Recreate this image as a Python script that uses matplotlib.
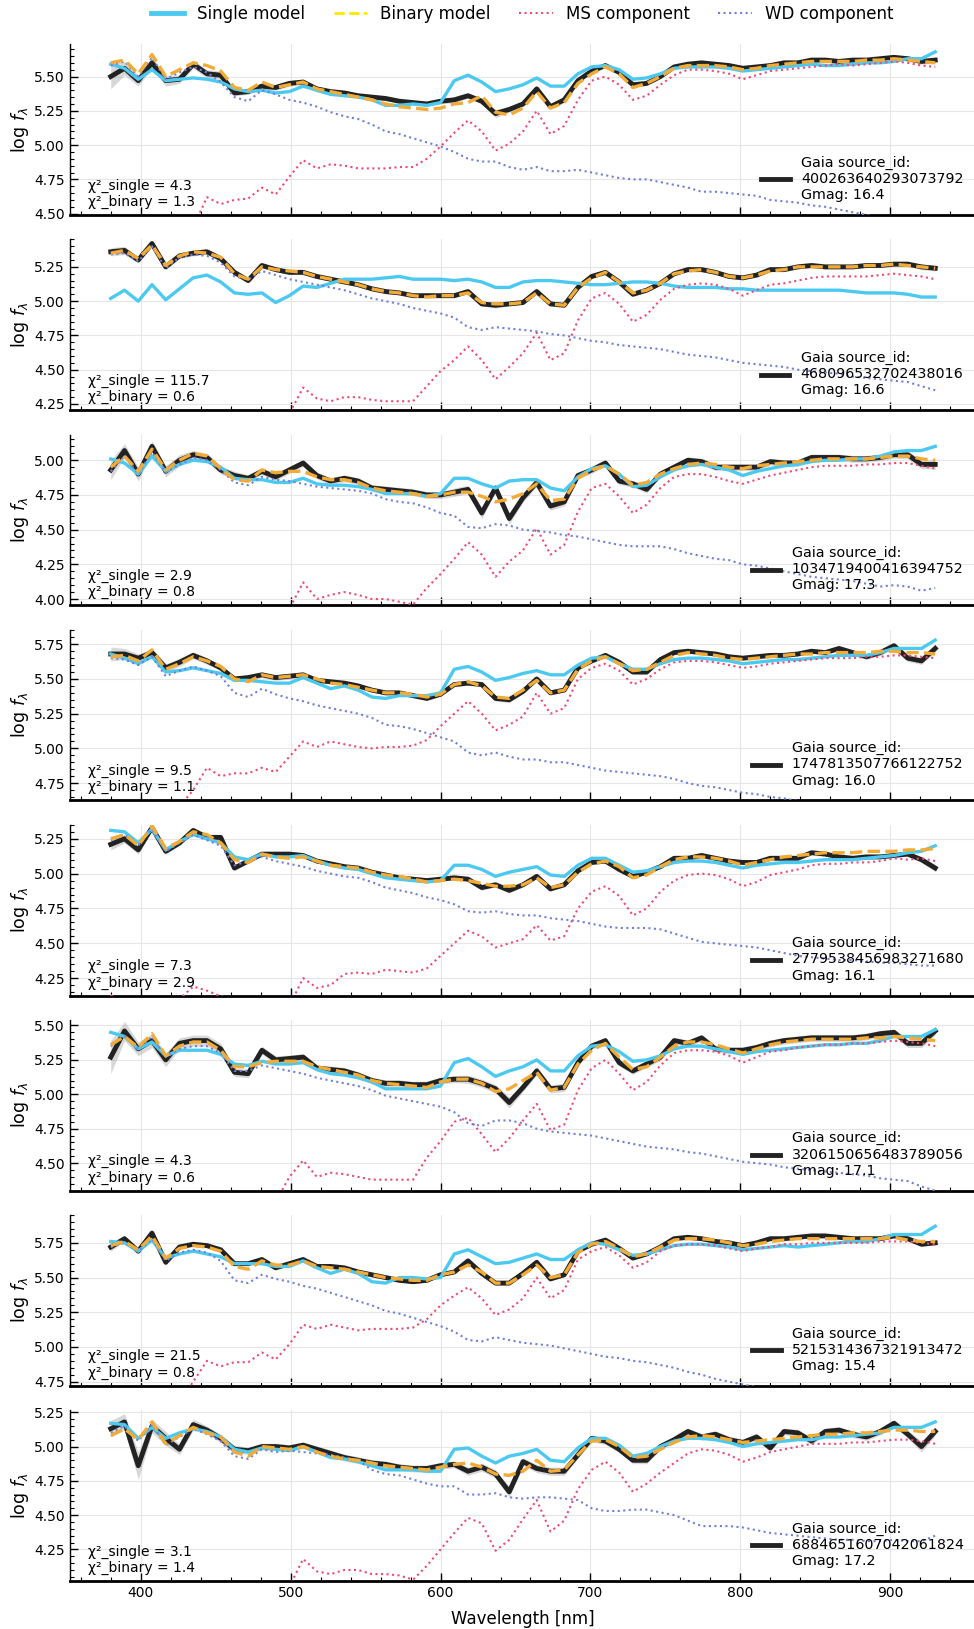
import matplotlib
matplotlib.use("Agg")
import matplotlib.pyplot as plt
import numpy as np
from matplotlib.lines import Line2D
from matplotlib.ticker import MultipleLocator, FormatStrFormatter

# XP sampling grid (nm)
wavelength = np.linspace(380, 930, 61)

source_ids = ["400263640293073792", "468096532702438016", "1034719400416394752",
              "1747813507766122752", "2779538456983271680", "3206150656483789056",
              "5215314367321913472", "6884651607042061824"]
gmags = [16.4, 16.6, 17.3, 16.0, 16.1, 17.1, 15.4, 17.2]
chi2_single = [4.3, 115.7, 2.9, 9.5, 7.3, 4.3, 21.5, 3.1]
chi2_binary = [1.3, 0.6, 0.8, 1.1, 2.9, 0.6, 0.8, 1.4]
ylims = [(4.49, 5.735), (4.205, 5.45), (3.955, 5.185), (4.625, 5.855),
         (4.125, 5.35), (4.30, 5.54), (4.72, 5.95), (4.02, 5.265)]

# ---- 400263640293073792
obs1 = [5.50, 5.56, 5.47, 5.60, 5.47, 5.48, 5.59, 5.52, 5.51, 5.38,
        5.39, 5.43, 5.42, 5.45, 5.46, 5.41, 5.39, 5.38, 5.36, 5.35,
        5.34, 5.32, 5.31, 5.30, 5.32, 5.33, 5.36, 5.32, 5.23, 5.26,
        5.30, 5.41, 5.28, 5.33, 5.47, 5.54, 5.58, 5.53, 5.44, 5.45,
        5.50, 5.57, 5.59, 5.60, 5.59, 5.58, 5.56, 5.57, 5.58, 5.60,
        5.60, 5.62, 5.62, 5.61, 5.62, 5.62, 5.63, 5.64, 5.63, 5.61,
        5.62]
err1 = [0.09, 0.05, 0.04, 0.04, 0.04, 0.03, 0.03, 0.03, 0.03, 0.02,
        0.02, 0.02, 0.02, 0.02, 0.02, 0.02, 0.02, 0.02, 0.015, 0.015,
        0.015, 0.015, 0.015, 0.015, 0.02, 0.02, 0.02, 0.02, 0.03, 0.02,
        0.02, 0.02, 0.02, 0.02, 0.02, 0.015, 0.015, 0.015, 0.015, 0.015,
        0.015, 0.015, 0.015, 0.015, 0.015, 0.015, 0.015, 0.015, 0.015, 0.015,
        0.015, 0.015, 0.015, 0.015, 0.015, 0.015, 0.015, 0.015, 0.02, 0.02,
        0.02]
bin1 = [5.60, 5.62, 5.52, 5.66, 5.50, 5.55, 5.60, 5.58, 5.54, 5.42,
        5.40, 5.46, 5.42, 5.44, 5.46, 5.41, 5.39, 5.37, 5.35, 5.33,
        5.30, 5.28, 5.27, 5.26, 5.27, 5.30, 5.31, 5.36, 5.24, 5.22,
        5.27, 5.39, 5.27, 5.31, 5.45, 5.52, 5.57, 5.52, 5.42, 5.45,
        5.50, 5.56, 5.58, 5.58, 5.58, 5.57, 5.55, 5.56, 5.58, 5.59,
        5.60, 5.61, 5.61, 5.61, 5.61, 5.62, 5.62, 5.63, 5.62, 5.61,
        5.60]
single1 = [5.59, 5.56, 5.48, 5.55, 5.47, 5.48, 5.49, 5.48, 5.46, 5.41,
           5.39, 5.40, 5.38, 5.39, 5.43, 5.40, 5.37, 5.36, 5.35, 5.33,
           5.29, 5.29, 5.30, 5.29, 5.31, 5.47, 5.51, 5.46, 5.39, 5.41,
           5.44, 5.49, 5.43, 5.43, 5.52, 5.57, 5.58, 5.55, 5.48, 5.49,
           5.52, 5.56, 5.57, 5.57, 5.57, 5.56, 5.54, 5.55, 5.56, 5.57,
           5.58, 5.59, 5.58, 5.58, 5.59, 5.60, 5.60, 5.61, 5.63, 5.63,
           5.68]
ms1 = [4.30, 4.40, 4.35, 4.45, 4.38, 4.42, 4.40, 4.62, 4.57, 4.60,
       4.61, 4.69, 4.64, 4.77, 4.89, 4.83, 4.86, 4.85, 4.83, 4.83,
       4.83, 4.84, 4.84, 4.90, 4.99, 5.09, 5.18, 5.10, 4.96, 5.01,
       5.10, 5.25, 5.08, 5.14, 5.33, 5.47, 5.50, 5.44, 5.33, 5.36,
       5.44, 5.51, 5.55, 5.55, 5.54, 5.52, 5.48, 5.51, 5.54, 5.55,
       5.56, 5.57, 5.58, 5.59, 5.58, 5.59, 5.60, 5.61, 5.60, 5.58,
       5.57]
wd1 = [5.58, 5.61, 5.50, 5.64, 5.48, 5.53, 5.57, 5.53, 5.46, 5.35,
       5.32, 5.40, 5.37, 5.33, 5.31, 5.28, 5.24, 5.21, 5.19, 5.15,
       5.10, 5.08, 5.05, 5.02, 4.99, 4.95, 4.90, 4.88, 4.88, 4.84,
       4.82, 4.84, 4.81, 4.81, 4.82, 4.80, 4.78, 4.76, 4.75, 4.75,
       4.73, 4.71, 4.69, 4.66, 4.66, 4.65, 4.64, 4.63, 4.60, 4.59,
       4.58, 4.56, 4.55, 4.53, 4.51, 4.49, 4.47, 4.45, 4.43, 4.42,
       4.40]

# ---- 468096532702438016
obs2 = [5.36, 5.37, 5.30, 5.42, 5.25, 5.33, 5.35, 5.36, 5.31, 5.21,
        5.15, 5.26, 5.23, 5.21, 5.21, 5.18, 5.16, 5.14, 5.12, 5.09,
        5.07, 5.06, 5.04, 5.04, 5.04, 5.04, 5.07, 4.98, 4.97, 4.98,
        4.99, 5.07, 4.98, 4.97, 5.10, 5.18, 5.21, 5.14, 5.05, 5.08,
        5.13, 5.20, 5.23, 5.23, 5.21, 5.18, 5.17, 5.19, 5.23, 5.23,
        5.25, 5.26, 5.25, 5.25, 5.25, 5.26, 5.26, 5.27, 5.27, 5.25,
        5.24]
err2 = [0.03, 0.03, 0.02, 0.02, 0.02, 0.02, 0.02, 0.02, 0.02, 0.02,
        0.015, 0.015, 0.015, 0.015, 0.015, 0.015, 0.015, 0.015, 0.015, 0.015,
        0.015, 0.015, 0.015, 0.015, 0.015, 0.015, 0.015, 0.015, 0.02, 0.015,
        0.015, 0.015, 0.015, 0.015, 0.015, 0.015, 0.015, 0.015, 0.015, 0.015,
        0.015, 0.015, 0.015, 0.015, 0.015, 0.015, 0.015, 0.015, 0.015, 0.015,
        0.015, 0.015, 0.015, 0.015, 0.015, 0.015, 0.015, 0.015, 0.015, 0.02,
        0.02]
bin2 = [5.35, 5.37, 5.31, 5.41, 5.26, 5.33, 5.36, 5.35, 5.32, 5.20,
        5.16, 5.25, 5.23, 5.22, 5.21, 5.18, 5.16, 5.14, 5.12, 5.09,
        5.07, 5.06, 5.04, 5.03, 5.04, 5.04, 5.06, 4.99, 4.98, 4.98,
        4.99, 5.06, 4.98, 4.97, 5.10, 5.17, 5.21, 5.14, 5.06, 5.08,
        5.13, 5.20, 5.22, 5.23, 5.21, 5.18, 5.17, 5.19, 5.22, 5.23,
        5.25, 5.25, 5.25, 5.25, 5.25, 5.26, 5.26, 5.27, 5.26, 5.25,
        5.24]
single2 = [5.02, 5.08, 5.00, 5.12, 5.01, 5.09, 5.17, 5.19, 5.14, 5.06,
           5.05, 5.06, 4.99, 5.04, 5.11, 5.10, 5.13, 5.16, 5.16, 5.16,
           5.17, 5.18, 5.16, 5.16, 5.16, 5.15, 5.16, 5.14, 5.10, 5.10,
           5.14, 5.15, 5.15, 5.14, 5.13, 5.12, 5.12, 5.13, 5.14, 5.14,
           5.13, 5.11, 5.10, 5.10, 5.10, 5.09, 5.09, 5.08, 5.08, 5.08,
           5.08, 5.08, 5.08, 5.08, 5.07, 5.06, 5.06, 5.06, 5.05, 5.03,
           5.03]
ms2 = [3.90, 3.95, 3.92, 4.00, 3.95, 4.00, 4.02, 4.05, 4.05, 4.08,
       4.10, 4.12, 4.12, 4.18, 4.37, 4.29, 4.27, 4.30, 4.30, 4.28,
       4.27, 4.27, 4.27, 4.38, 4.49, 4.57, 4.67, 4.57, 4.43, 4.52,
       4.62, 4.77, 4.57, 4.62, 4.86, 5.02, 5.06, 4.98, 4.85, 4.90,
       5.01, 5.09, 5.12, 5.13, 5.12, 5.09, 5.04, 5.08, 5.12, 5.13,
       5.15, 5.17, 5.18, 5.18, 5.18, 5.18, 5.19, 5.20, 5.19, 5.18,
       5.16]
wd2 = [5.34, 5.35, 5.29, 5.40, 5.24, 5.32, 5.34, 5.33, 5.28, 5.18,
       5.16, 5.22, 5.19, 5.16, 5.14, 5.12, 5.10, 5.08, 5.05, 5.02,
       5.00, 4.98, 4.95, 4.93, 4.91, 4.88, 4.81, 4.79, 4.81, 4.80,
       4.79, 4.78, 4.76, 4.75, 4.73, 4.71, 4.70, 4.68, 4.67, 4.66,
       4.65, 4.63, 4.61, 4.60, 4.59, 4.57, 4.55, 4.54, 4.53, 4.52,
       4.50, 4.49, 4.48, 4.47, 4.45, 4.44, 4.43, 4.42, 4.41, 4.38,
       4.35]

# ---- 1034719400416394752
obs3 = [4.93, 5.07, 4.90, 5.10, 4.92, 5.00, 5.04, 5.02, 4.93, 4.89,
        4.87, 4.92, 4.88, 4.93, 4.98, 4.89, 4.85, 4.87, 4.85, 4.80,
        4.79, 4.78, 4.77, 4.75, 4.75, 4.77, 4.79, 4.62, 4.80, 4.58,
        4.73, 4.84, 4.67, 4.70, 4.89, 4.93, 4.98, 4.85, 4.83, 4.79,
        4.90, 4.95, 5.00, 4.99, 4.95, 4.95, 4.95, 4.95, 4.99, 4.98,
        4.98, 5.02, 5.02, 5.02, 5.01, 5.01, 5.02, 5.04, 5.04, 4.97,
        4.97]
err3 = [0.07, 0.05, 0.05, 0.04, 0.04, 0.04, 0.03, 0.03, 0.03, 0.03,
        0.025, 0.025, 0.025, 0.025, 0.025, 0.025, 0.025, 0.025, 0.025, 0.025,
        0.025, 0.025, 0.025, 0.025, 0.025, 0.03, 0.03, 0.04, 0.03, 0.04,
        0.03, 0.03, 0.03, 0.03, 0.025, 0.025, 0.025, 0.025, 0.025, 0.025,
        0.025, 0.025, 0.025, 0.025, 0.025, 0.025, 0.025, 0.025, 0.025, 0.025,
        0.025, 0.025, 0.025, 0.025, 0.025, 0.025, 0.025, 0.025, 0.03, 0.03,
        0.035]
bin3 = [4.95, 5.03, 4.92, 5.08, 4.93, 5.00, 5.05, 5.03, 4.94, 4.86,
        4.85, 4.93, 4.91, 4.92, 4.92, 4.88, 4.86, 4.86, 4.84, 4.80,
        4.78, 4.77, 4.76, 4.74, 4.75, 4.77, 4.77, 4.74, 4.70, 4.72,
        4.76, 4.83, 4.71, 4.72, 4.87, 4.93, 4.96, 4.90, 4.82, 4.84,
        4.90, 4.94, 4.97, 4.98, 4.97, 4.95, 4.94, 4.96, 4.97, 4.98,
        4.99, 5.00, 5.01, 5.01, 5.01, 5.01, 5.02, 5.03, 5.03, 5.01,
        5.00]
single3 = [5.01, 4.98, 4.90, 5.03, 4.92, 4.97, 5.00, 4.99, 4.95, 4.87,
           4.86, 4.86, 4.84, 4.84, 4.87, 4.83, 4.82, 4.82, 4.81, 4.79,
           4.76, 4.76, 4.76, 4.74, 4.76, 4.87, 4.87, 4.83, 4.80, 4.85,
           4.86, 4.86, 4.80, 4.78, 4.88, 4.94, 4.96, 4.90, 4.81, 4.82,
           4.88, 4.93, 4.96, 4.97, 4.95, 4.93, 4.89, 4.92, 4.94, 4.96,
           4.97, 4.99, 5.00, 5.00, 5.01, 5.01, 5.03, 5.06, 5.07, 5.07,
           5.10]
ms3 = [3.70, 3.75, 3.72, 3.80, 3.75, 3.78, 3.82, 3.82, 3.80, 3.82,
       3.85, 3.88, 3.88, 3.93, 4.12, 4.00, 4.03, 4.05, 4.03, 4.00,
       4.00, 3.98, 3.96, 4.08, 4.18, 4.29, 4.41, 4.32, 4.16, 4.27,
       4.35, 4.51, 4.32, 4.39, 4.63, 4.80, 4.83, 4.74, 4.62, 4.68,
       4.80, 4.88, 4.90, 4.90, 4.88, 4.85, 4.83, 4.86, 4.89, 4.91,
       4.93, 4.95, 4.96, 4.96, 4.96, 4.97, 4.97, 4.98, 4.98, 4.96,
       4.94]
wd3 = [4.92, 5.03, 4.90, 5.06, 4.91, 4.97, 5.02, 5.00, 4.93, 4.84,
       4.82, 4.88, 4.86, 4.85, 4.83, 4.81, 4.80, 4.79, 4.78, 4.76,
       4.72, 4.70, 4.69, 4.66, 4.62, 4.60, 4.52, 4.51, 4.54, 4.53,
       4.50, 4.49, 4.48, 4.46, 4.45, 4.43, 4.41, 4.39, 4.38, 4.38,
       4.38, 4.36, 4.33, 4.31, 4.29, 4.28, 4.25, 4.24, 4.22, 4.20,
       4.18, 4.16, 4.15, 4.14, 4.13, 4.11, 4.09, 4.10, 4.09, 4.06,
       4.08]

# ---- 1747813507766122752
obs4 = [5.68, 5.68, 5.65, 5.69, 5.58, 5.62, 5.67, 5.63, 5.58, 5.50,
        5.51, 5.53, 5.51, 5.52, 5.53, 5.49, 5.48, 5.47, 5.45, 5.42,
        5.40, 5.40, 5.38, 5.36, 5.39, 5.46, 5.47, 5.46, 5.36, 5.35,
        5.41, 5.50, 5.40, 5.42, 5.58, 5.63, 5.67, 5.62, 5.55, 5.55,
        5.64, 5.69, 5.70, 5.69, 5.68, 5.66, 5.65, 5.66, 5.67, 5.67,
        5.68, 5.70, 5.69, 5.72, 5.69, 5.66, 5.69, 5.74, 5.65, 5.63,
        5.72]
err4 = [0.05, 0.04, 0.03, 0.03, 0.03, 0.03, 0.025, 0.025, 0.02, 0.02,
        0.02, 0.02, 0.02, 0.02, 0.015, 0.015, 0.015, 0.015, 0.015, 0.015,
        0.015, 0.015, 0.015, 0.015, 0.015, 0.015, 0.015, 0.015, 0.02, 0.02,
        0.015, 0.015, 0.015, 0.015, 0.015, 0.015, 0.015, 0.015, 0.015, 0.015,
        0.015, 0.015, 0.015, 0.015, 0.015, 0.015, 0.015, 0.015, 0.015, 0.015,
        0.015, 0.015, 0.015, 0.015, 0.02, 0.02, 0.02, 0.02, 0.025, 0.025,
        0.025]
bin4 = [5.66, 5.67, 5.63, 5.71, 5.57, 5.61, 5.66, 5.63, 5.59, 5.50,
        5.48, 5.53, 5.51, 5.52, 5.53, 5.50, 5.47, 5.46, 5.44, 5.42,
        5.40, 5.40, 5.39, 5.37, 5.39, 5.46, 5.48, 5.45, 5.37, 5.36,
        5.42, 5.49, 5.40, 5.42, 5.57, 5.63, 5.66, 5.61, 5.56, 5.57,
        5.62, 5.67, 5.69, 5.68, 5.67, 5.65, 5.64, 5.65, 5.66, 5.67,
        5.68, 5.68, 5.69, 5.69, 5.69, 5.69, 5.70, 5.70, 5.69, 5.69,
        5.68]
single4 = [5.68, 5.65, 5.61, 5.66, 5.55, 5.56, 5.58, 5.56, 5.54, 5.49,
           5.49, 5.48, 5.47, 5.47, 5.51, 5.47, 5.43, 5.45, 5.42, 5.37,
           5.36, 5.38, 5.38, 5.38, 5.40, 5.57, 5.59, 5.55, 5.49, 5.51,
           5.54, 5.56, 5.53, 5.53, 5.60, 5.65, 5.66, 5.61, 5.57, 5.57,
           5.61, 5.64, 5.65, 5.65, 5.64, 5.63, 5.61, 5.62, 5.63, 5.64,
           5.64, 5.65, 5.66, 5.67, 5.67, 5.67, 5.69, 5.72, 5.72, 5.72,
           5.78]
ms4 = [4.35, 4.40, 4.42, 4.48, 4.50, 4.58, 4.70, 4.86, 4.80, 4.82,
       4.82, 4.86, 4.83, 4.94, 5.05, 5.01, 5.05, 5.03, 5.01, 5.00,
       5.01, 5.01, 5.02, 5.06, 5.16, 5.25, 5.34, 5.25, 5.13, 5.17,
       5.23, 5.40, 5.25, 5.29, 5.50, 5.58, 5.61, 5.56, 5.46, 5.50,
       5.57, 5.62, 5.63, 5.63, 5.62, 5.60, 5.58, 5.59, 5.61, 5.62,
       5.63, 5.64, 5.65, 5.65, 5.65, 5.66, 5.66, 5.67, 5.67, 5.66,
       5.65]
wd4 = [5.65, 5.64, 5.60, 5.66, 5.52, 5.56, 5.59, 5.56, 5.52, 5.40,
       5.37, 5.43, 5.39, 5.36, 5.34, 5.31, 5.29, 5.27, 5.25, 5.22,
       5.17, 5.16, 5.14, 5.11, 5.08, 5.05, 4.97, 4.95, 4.97, 4.94,
       4.92, 4.92, 4.90, 4.90, 4.88, 4.86, 4.84, 4.83, 4.82, 4.81,
       4.80, 4.78, 4.75, 4.73, 4.72, 4.70, 4.68, 4.67, 4.65, 4.64,
       4.62, 4.61, 4.60, 4.58, 4.56, 4.55, 4.53, 4.52, 4.50, 4.49,
       4.47]

# ---- 2779538456983271680
obs5 = [5.21, 5.25, 5.17, 5.33, 5.16, 5.22, 5.31, 5.26, 5.26, 5.04,
        5.09, 5.14, 5.14, 5.14, 5.13, 5.09, 5.07, 5.05, 5.04, 5.01,
        4.99, 4.97, 4.96, 4.95, 4.96, 4.97, 4.96, 4.90, 4.92, 4.88,
        4.92, 4.98, 4.89, 4.92, 5.02, 5.08, 5.09, 5.03, 4.98, 5.01,
        5.05, 5.11, 5.11, 5.13, 5.11, 5.09, 5.08, 5.08, 5.11, 5.11,
        5.11, 5.15, 5.14, 5.12, 5.11, 5.12, 5.12, 5.13, 5.14, 5.10,
        5.04]
err5 = [0.04, 0.03, 0.03, 0.02, 0.02, 0.02, 0.02, 0.02, 0.02, 0.02,
        0.015, 0.015, 0.015, 0.015, 0.015, 0.015, 0.015, 0.015, 0.015, 0.015,
        0.015, 0.015, 0.015, 0.015, 0.015, 0.015, 0.015, 0.02, 0.015, 0.02,
        0.015, 0.015, 0.015, 0.015, 0.015, 0.015, 0.015, 0.015, 0.015, 0.015,
        0.015, 0.015, 0.015, 0.015, 0.015, 0.015, 0.015, 0.015, 0.015, 0.015,
        0.015, 0.015, 0.015, 0.015, 0.015, 0.015, 0.015, 0.015, 0.015, 0.02,
        0.025]
bin5 = [5.25, 5.28, 5.20, 5.34, 5.18, 5.23, 5.30, 5.28, 5.22, 5.10,
        5.08, 5.14, 5.12, 5.11, 5.12, 5.09, 5.06, 5.05, 5.04, 5.01,
        4.99, 4.98, 4.96, 4.94, 4.95, 4.96, 4.95, 4.93, 4.91, 4.91,
        4.92, 4.97, 4.90, 4.92, 5.01, 5.07, 5.09, 5.05, 4.97, 4.99,
        5.05, 5.10, 5.12, 5.12, 5.11, 5.09, 5.06, 5.08, 5.10, 5.12,
        5.13, 5.14, 5.15, 5.15, 5.15, 5.16, 5.16, 5.16, 5.17, 5.17,
        5.18]
single5 = [5.31, 5.30, 5.22, 5.32, 5.17, 5.23, 5.28, 5.25, 5.22, 5.12,
           5.10, 5.14, 5.12, 5.12, 5.13, 5.09, 5.06, 5.04, 5.03, 5.00,
           4.97, 4.96, 4.95, 4.94, 4.95, 5.06, 5.06, 5.03, 4.98, 5.01,
           5.03, 5.05, 4.99, 4.98, 5.06, 5.11, 5.11, 5.06, 5.01, 5.02,
           5.05, 5.08, 5.09, 5.09, 5.08, 5.06, 5.04, 5.06, 5.07, 5.08,
           5.08, 5.09, 5.10, 5.10, 5.10, 5.11, 5.12, 5.13, 5.15, 5.16,
           5.20]
ms5 = [4.13, 4.05, 4.06, 4.00, 4.05, 4.10, 4.19, 4.16, 4.12, 4.10,
       4.02, 3.98, 3.95, 4.05, 4.25, 4.18, 4.20, 4.28, 4.29, 4.28,
       4.31, 4.30, 4.29, 4.32, 4.41, 4.50, 4.59, 4.55, 4.47, 4.50,
       4.53, 4.63, 4.52, 4.55, 4.75, 4.87, 4.91, 4.84, 4.70, 4.75,
       4.87, 4.95, 4.99, 5.00, 4.99, 4.96, 4.91, 4.94, 4.99, 5.01,
       5.03, 5.06, 5.07, 5.07, 5.08, 5.08, 5.09, 5.11, 5.10, 5.11,
       5.09]
wd5 = [5.24, 5.28, 5.20, 5.32, 5.16, 5.22, 5.28, 5.24, 5.20, 5.06,
       5.09, 5.12, 5.09, 5.07, 5.05, 5.02, 5.00, 4.98, 4.97, 4.94,
       4.90, 4.88, 4.86, 4.83, 4.81, 4.78, 4.73, 4.72, 4.73, 4.71,
       4.70, 4.70, 4.68, 4.67, 4.66, 4.64, 4.62, 4.61, 4.61, 4.61,
       4.60, 4.57, 4.54, 4.51, 4.50, 4.49, 4.48, 4.47, 4.45, 4.43,
       4.41, 4.40, 4.39, 4.38, 4.38, 4.37, 4.36, 4.36, 4.35, 4.34,
       4.34]

# ---- 3206150656483789056
obs6 = [5.27, 5.46, 5.33, 5.39, 5.25, 5.37, 5.39, 5.39, 5.33, 5.16,
        5.15, 5.32, 5.25, 5.26, 5.27, 5.19, 5.18, 5.17, 5.14, 5.10,
        5.08, 5.08, 5.07, 5.07, 5.10, 5.11, 5.11, 5.08, 5.04, 4.94,
        5.05, 5.17, 5.04, 5.05, 5.23, 5.35, 5.39, 5.23, 5.17, 5.22,
        5.27, 5.39, 5.37, 5.41, 5.33, 5.32, 5.32, 5.34, 5.37, 5.39,
        5.40, 5.41, 5.41, 5.41, 5.41, 5.42, 5.44, 5.45, 5.37, 5.37,
        5.46]
err6 = [0.12, 0.07, 0.05, 0.05, 0.05, 0.04, 0.04, 0.04, 0.04, 0.03,
        0.03, 0.03, 0.03, 0.025, 0.025, 0.025, 0.025, 0.025, 0.025, 0.025,
        0.025, 0.025, 0.025, 0.025, 0.025, 0.025, 0.03, 0.03, 0.03, 0.04,
        0.03, 0.03, 0.03, 0.03, 0.025, 0.025, 0.025, 0.025, 0.025, 0.025,
        0.025, 0.025, 0.025, 0.025, 0.025, 0.025, 0.025, 0.025, 0.025, 0.025,
        0.025, 0.025, 0.025, 0.025, 0.025, 0.025, 0.025, 0.025, 0.03, 0.03,
        0.03]
bin6 = [5.36, 5.42, 5.34, 5.44, 5.28, 5.35, 5.38, 5.38, 5.32, 5.20,
        5.20, 5.23, 5.24, 5.24, 5.24, 5.20, 5.18, 5.16, 5.14, 5.10,
        5.08, 5.07, 5.06, 5.05, 5.09, 5.11, 5.11, 5.08, 5.02, 5.04,
        5.10, 5.16, 5.03, 5.05, 5.22, 5.32, 5.37, 5.27, 5.18, 5.20,
        5.27, 5.35, 5.38, 5.38, 5.36, 5.33, 5.30, 5.33, 5.36, 5.38,
        5.39, 5.40, 5.40, 5.40, 5.40, 5.41, 5.41, 5.42, 5.41, 5.40,
        5.39]
single6 = [5.45, 5.42, 5.33, 5.38, 5.28, 5.32, 5.32, 5.32, 5.29, 5.22,
           5.21, 5.24, 5.22, 5.22, 5.23, 5.18, 5.15, 5.14, 5.12, 5.09,
           5.04, 5.04, 5.04, 5.04, 5.06, 5.23, 5.26, 5.20, 5.13, 5.17,
           5.20, 5.25, 5.17, 5.17, 5.28, 5.35, 5.36, 5.31, 5.24, 5.25,
           5.28, 5.33, 5.35, 5.35, 5.33, 5.31, 5.29, 5.31, 5.32, 5.33,
           5.34, 5.35, 5.36, 5.36, 5.37, 5.37, 5.39, 5.42, 5.42, 5.42,
           5.47]
ms6 = [4.00, 4.05, 4.02, 4.10, 4.05, 4.08, 4.12, 4.12, 4.10, 4.08,
       4.10, 4.15, 4.22, 4.40, 4.52, 4.40, 4.43, 4.42, 4.40, 4.38,
       4.38, 4.38, 4.38, 4.54, 4.66, 4.80, 4.83, 4.71, 4.58, 4.68,
       4.81, 4.93, 4.74, 4.78, 5.03, 5.19, 5.25, 5.15, 5.03, 5.09,
       5.21, 5.30, 5.32, 5.32, 5.31, 5.28, 5.23, 5.27, 5.31, 5.32,
       5.34, 5.35, 5.36, 5.36, 5.37, 5.37, 5.38, 5.39, 5.38, 5.37,
       5.35]
wd6 = [5.35, 5.42, 5.33, 5.42, 5.27, 5.33, 5.35, 5.35, 5.30, 5.17,
       5.17, 5.21, 5.19, 5.17, 5.15, 5.12, 5.10, 5.08, 5.06, 5.03,
       4.99, 4.97, 4.95, 4.93, 4.91, 4.87, 4.79, 4.77, 4.81, 4.81,
       4.79, 4.75, 4.73, 4.72, 4.71, 4.70, 4.68, 4.66, 4.64, 4.62,
       4.61, 4.60, 4.58, 4.57, 4.55, 4.53, 4.51, 4.50, 4.49, 4.47,
       4.46, 4.45, 4.44, 4.43, 4.42, 4.41, 4.39, 4.38, 4.37, 4.33,
       4.30]

# ---- 5215314367321913472
obs7 = [5.72, 5.78, 5.69, 5.82, 5.61, 5.72, 5.74, 5.73, 5.70, 5.60,
        5.60, 5.63, 5.57, 5.60, 5.63, 5.58, 5.58, 5.57, 5.54, 5.52,
        5.50, 5.48, 5.47, 5.48, 5.52, 5.54, 5.62, 5.53, 5.46, 5.46,
        5.53, 5.61, 5.49, 5.52, 5.69, 5.74, 5.77, 5.71, 5.64, 5.67,
        5.72, 5.78, 5.79, 5.78, 5.76, 5.75, 5.73, 5.75, 5.78, 5.78,
        5.79, 5.80, 5.80, 5.79, 5.78, 5.78, 5.78, 5.80, 5.78, 5.74,
        5.75]
err7 = [0.03, 0.02, 0.02, 0.02, 0.02, 0.015, 0.015, 0.015, 0.015, 0.015,
        0.012, 0.012, 0.012, 0.012, 0.012, 0.012, 0.012, 0.012, 0.012, 0.012,
        0.012, 0.012, 0.012, 0.012, 0.012, 0.012, 0.012, 0.012, 0.015, 0.015,
        0.012, 0.012, 0.012, 0.012, 0.012, 0.012, 0.012, 0.012, 0.012, 0.012,
        0.012, 0.012, 0.012, 0.012, 0.012, 0.012, 0.012, 0.012, 0.012, 0.012,
        0.012, 0.012, 0.012, 0.012, 0.012, 0.012, 0.012, 0.012, 0.015, 0.015,
        0.015]
bin7 = [5.73, 5.76, 5.70, 5.80, 5.64, 5.71, 5.73, 5.72, 5.69, 5.58,
        5.56, 5.62, 5.59, 5.59, 5.62, 5.58, 5.57, 5.56, 5.54, 5.52,
        5.50, 5.49, 5.48, 5.48, 5.52, 5.54, 5.59, 5.54, 5.46, 5.46,
        5.52, 5.59, 5.50, 5.52, 5.68, 5.74, 5.76, 5.71, 5.65, 5.67,
        5.72, 5.77, 5.78, 5.78, 5.77, 5.75, 5.73, 5.74, 5.76, 5.77,
        5.78, 5.78, 5.78, 5.78, 5.78, 5.78, 5.78, 5.79, 5.77, 5.76,
        5.76]
single7 = [5.76, 5.75, 5.69, 5.77, 5.64, 5.67, 5.69, 5.67, 5.65, 5.60,
           5.60, 5.60, 5.58, 5.58, 5.62, 5.57, 5.53, 5.56, 5.53, 5.47,
           5.46, 5.50, 5.50, 5.49, 5.50, 5.67, 5.70, 5.65, 5.60, 5.61,
           5.64, 5.67, 5.63, 5.63, 5.70, 5.75, 5.74, 5.70, 5.66, 5.67,
           5.70, 5.73, 5.74, 5.74, 5.73, 5.72, 5.70, 5.71, 5.72, 5.73,
           5.72, 5.73, 5.74, 5.75, 5.76, 5.76, 5.78, 5.81, 5.81, 5.81,
           5.87]
ms7 = [4.40, 4.50, 4.45, 4.55, 4.50, 4.60, 4.75, 4.90, 4.86, 4.89,
       4.89, 4.96, 4.91, 5.02, 5.16, 5.13, 5.16, 5.14, 5.12, 5.13,
       5.13, 5.13, 5.14, 5.20, 5.30, 5.37, 5.43, 5.35, 5.23, 5.27,
       5.35, 5.50, 5.35, 5.41, 5.63, 5.69, 5.72, 5.66, 5.57, 5.61,
       5.69, 5.73, 5.74, 5.74, 5.73, 5.71, 5.69, 5.71, 5.72, 5.74,
       5.74, 5.75, 5.75, 5.75, 5.75, 5.75, 5.76, 5.76, 5.76, 5.75,
       5.74]
wd7 = [5.72, 5.75, 5.69, 5.78, 5.62, 5.68, 5.70, 5.68, 5.62, 5.48,
       5.46, 5.52, 5.49, 5.47, 5.44, 5.42, 5.39, 5.36, 5.33, 5.30,
       5.26, 5.24, 5.21, 5.18, 5.15, 5.11, 5.05, 5.04, 5.07, 5.05,
       5.03, 5.02, 5.01, 4.99, 4.97, 4.95, 4.93, 4.92, 4.90, 4.89,
       4.87, 4.85, 4.82, 4.80, 4.77, 4.75, 4.73, 4.71, 4.70, 4.68,
       4.67, 4.65, 4.64, 4.62, 4.61, 4.60, 4.58, 4.57, 4.56, 4.55,
       4.54]

# ---- 6884651607042061824
obs8 = [5.13, 5.18, 4.86, 5.15, 5.06, 4.98, 5.16, 5.12, 5.06, 4.98,
        4.97, 5.00, 5.00, 4.99, 5.01, 4.98, 4.95, 4.92, 4.90, 4.88,
        4.87, 4.85, 4.84, 4.84, 4.86, 4.87, 4.82, 4.85, 4.80, 4.67,
        4.89, 4.84, 4.82, 4.82, 4.94, 5.06, 5.04, 4.98, 4.90, 4.90,
        5.00, 5.05, 5.11, 5.07, 5.09, 5.05, 5.03, 5.07, 4.99, 5.11,
        5.10, 5.04, 5.11, 5.12, 5.09, 5.07, 5.11, 5.17, 5.09, 5.00,
        5.11]
err8 = [0.06, 0.06, 0.10, 0.05, 0.05, 0.04, 0.04, 0.03, 0.03, 0.03,
        0.025, 0.025, 0.025, 0.025, 0.025, 0.025, 0.025, 0.025, 0.025, 0.025,
        0.025, 0.025, 0.025, 0.025, 0.025, 0.025, 0.03, 0.03, 0.03, 0.04,
        0.03, 0.03, 0.03, 0.03, 0.025, 0.025, 0.025, 0.025, 0.025, 0.025,
        0.025, 0.025, 0.025, 0.025, 0.025, 0.025, 0.025, 0.025, 0.025, 0.025,
        0.025, 0.025, 0.025, 0.025, 0.025, 0.025, 0.025, 0.025, 0.03, 0.04,
        0.03]
bin8 = [5.08, 5.13, 5.05, 5.18, 5.02, 5.08, 5.14, 5.10, 5.07, 4.96,
        4.93, 5.00, 4.99, 4.98, 5.00, 4.96, 4.93, 4.91, 4.90, 4.88,
        4.86, 4.85, 4.84, 4.83, 4.85, 4.87, 4.88, 4.85, 4.80, 4.79,
        4.82, 4.90, 4.82, 4.83, 4.94, 5.04, 5.05, 5.00, 4.92, 4.93,
        4.98, 5.03, 5.07, 5.08, 5.07, 5.05, 5.03, 5.04, 5.05, 5.06,
        5.07, 5.08, 5.09, 5.09, 5.10, 5.10, 5.11, 5.12, 5.12, 5.11,
        5.11]
single8 = [5.17, 5.16, 5.06, 5.14, 5.06, 5.10, 5.13, 5.11, 5.07, 4.98,
           4.96, 4.99, 4.98, 4.97, 5.00, 4.96, 4.92, 4.91, 4.89, 4.86,
           4.83, 4.83, 4.83, 4.82, 4.82, 4.98, 4.99, 4.93, 4.88, 4.93,
           4.95, 4.98, 4.90, 4.89, 4.99, 5.06, 5.06, 5.01, 4.93, 4.95,
           5.00, 5.04, 5.06, 5.06, 5.05, 5.03, 5.00, 5.02, 5.03, 5.04,
           5.05, 5.05, 5.07, 5.07, 5.08, 5.09, 5.10, 5.14, 5.14, 5.14,
           5.18]
ms8 = [3.70, 3.78, 3.72, 3.82, 3.76, 3.80, 3.85, 3.85, 3.82, 3.85,
       3.88, 3.90, 3.92, 3.98, 4.18, 4.09, 4.07, 4.10, 4.10, 4.07,
       4.07, 4.06, 4.03, 4.13, 4.25, 4.37, 4.48, 4.44, 4.24, 4.32,
       4.47, 4.61, 4.38, 4.46, 4.69, 4.83, 4.89, 4.81, 4.67, 4.73,
       4.81, 4.88, 4.95, 4.98, 4.97, 4.94, 4.89, 4.92, 4.96, 4.98,
       5.00, 5.02, 5.02, 5.02, 5.03, 5.03, 5.04, 5.05, 5.05, 5.04,
       5.02]
wd8 = [5.10, 5.15, 5.04, 5.16, 5.01, 5.07, 5.13, 5.09, 5.04, 4.93,
       4.91, 4.98, 4.96, 4.97, 4.96, 4.95, 4.94, 4.92, 4.90, 4.83,
       4.80, 4.79, 4.76, 4.73, 4.71, 4.71, 4.65, 4.65, 4.66, 4.63,
       4.62, 4.63, 4.63, 4.62, 4.61, 4.55, 4.53, 4.53, 4.54, 4.54,
       4.52, 4.50, 4.46, 4.42, 4.42, 4.42, 4.41, 4.39, 4.37, 4.36,
       4.35, 4.34, 4.33, 4.32, 4.32, 4.31, 4.31, 4.32, 4.31, 4.31,
       4.35]

panels = [
    (obs1, err1, bin1, single1, ms1, wd1),
    (obs2, err2, bin2, single2, ms2, wd2),
    (obs3, err3, bin3, single3, ms3, wd3),
    (obs4, err4, bin4, single4, ms4, wd4),
    (obs5, err5, bin5, single5, ms5, wd5),
    (obs6, err6, bin6, single6, ms6, wd6),
    (obs7, err7, bin7, single7, ms7, wd7),
    (obs8, err8, bin8, single8, ms8, wd8),
]

c_obs = "#222222"
c_single = "#4cc9f0"
c_binary = "#f2ab36"
c_binary_leg = "#ffe800"
c_ms = "#f04a74"
c_wd = "#7080dc"

fig, axes = plt.subplots(8, 1, sharex=True, figsize=(9.74, 16.29), dpi=100)
fig.subplots_adjust(left=0.0714, right=1.0025, top=0.9728, bottom=0.0295, hspace=0.143)

for i, ax in enumerate(axes):
    obs, err, binary, single, ms, wd = [np.array(a) for a in panels[i]]
    ax.fill_between(wavelength, obs - err, obs + err, color="grey", alpha=0.3, lw=0, zorder=1)
    ax.plot(wavelength, obs, color=c_obs, lw=3.5, zorder=2,
            label=f"Gaia source_id:\n{source_ids[i]}\nGmag: {gmags[i]:.1f}")
    ax.plot(wavelength, single, color=c_single, lw=2.4, zorder=3)
    ax.plot(wavelength, ms, color=c_ms, ls=":", lw=1.5, zorder=3)
    ax.plot(wavelength, wd, color=c_wd, ls=":", lw=1.5, zorder=3)
    ax.plot(wavelength, binary, color=c_binary, ls="--", lw=2.4, zorder=4)

    ax.text(0.02, 0.035, f"χ²_single = {chi2_single[i]}\nχ²_binary = {chi2_binary[i]}",
            transform=ax.transAxes, fontsize=10, va="bottom", ha="left")
    ax.legend(loc="lower right", frameon=False, fontsize=10.3, handlelength=2.0)

    ax.set_ylim(*ylims[i])
    ax.yaxis.set_major_locator(MultipleLocator(0.25))
    ax.yaxis.set_minor_locator(MultipleLocator(0.05))
    ax.yaxis.set_major_formatter(FormatStrFormatter("%.2f"))
    ax.xaxis.set_major_locator(MultipleLocator(100))
    ax.xaxis.set_minor_locator(MultipleLocator(20))
    ax.tick_params(which="both", direction="in", labelsize=10, top=False, right=False)
    ax.tick_params(which="major", length=6, width=1)
    ax.tick_params(which="minor", length=3, width=0.8)
    ax.grid(True, which="major", color="0.9", lw=0.8)
    ax.set_axisbelow(True)
    for side in ("top", "right"):
        ax.spines[side].set_visible(False)
    ax.spines["bottom"].set_linewidth(2.0)
    ax.spines["left"].set_linewidth(1.0)
    ax.set_ylabel(r"log $f_\lambda$", fontsize=12.5)
    ax.yaxis.set_label_coords(-0.0426, 0.5)

axes[-1].set_xlabel("Wavelength [nm]", fontsize=12, labelpad=7)

handles = [
    Line2D([], [], color=c_single, lw=3.5),
    Line2D([], [], color=c_binary_leg, ls="--", lw=2.0),
    Line2D([], [], color=c_ms, ls=":", lw=1.5),
    Line2D([], [], color=c_wd, ls=":", lw=1.5),
]
fig.legend(handles, ["Single model", "Binary model", "MS component", "WD component"],
           loc="upper center", bbox_to_anchor=(0.536, 1.006), ncol=4, frameon=False,
           fontsize=12, columnspacing=1.7)

fig.savefig("out.png", dpi=100)
